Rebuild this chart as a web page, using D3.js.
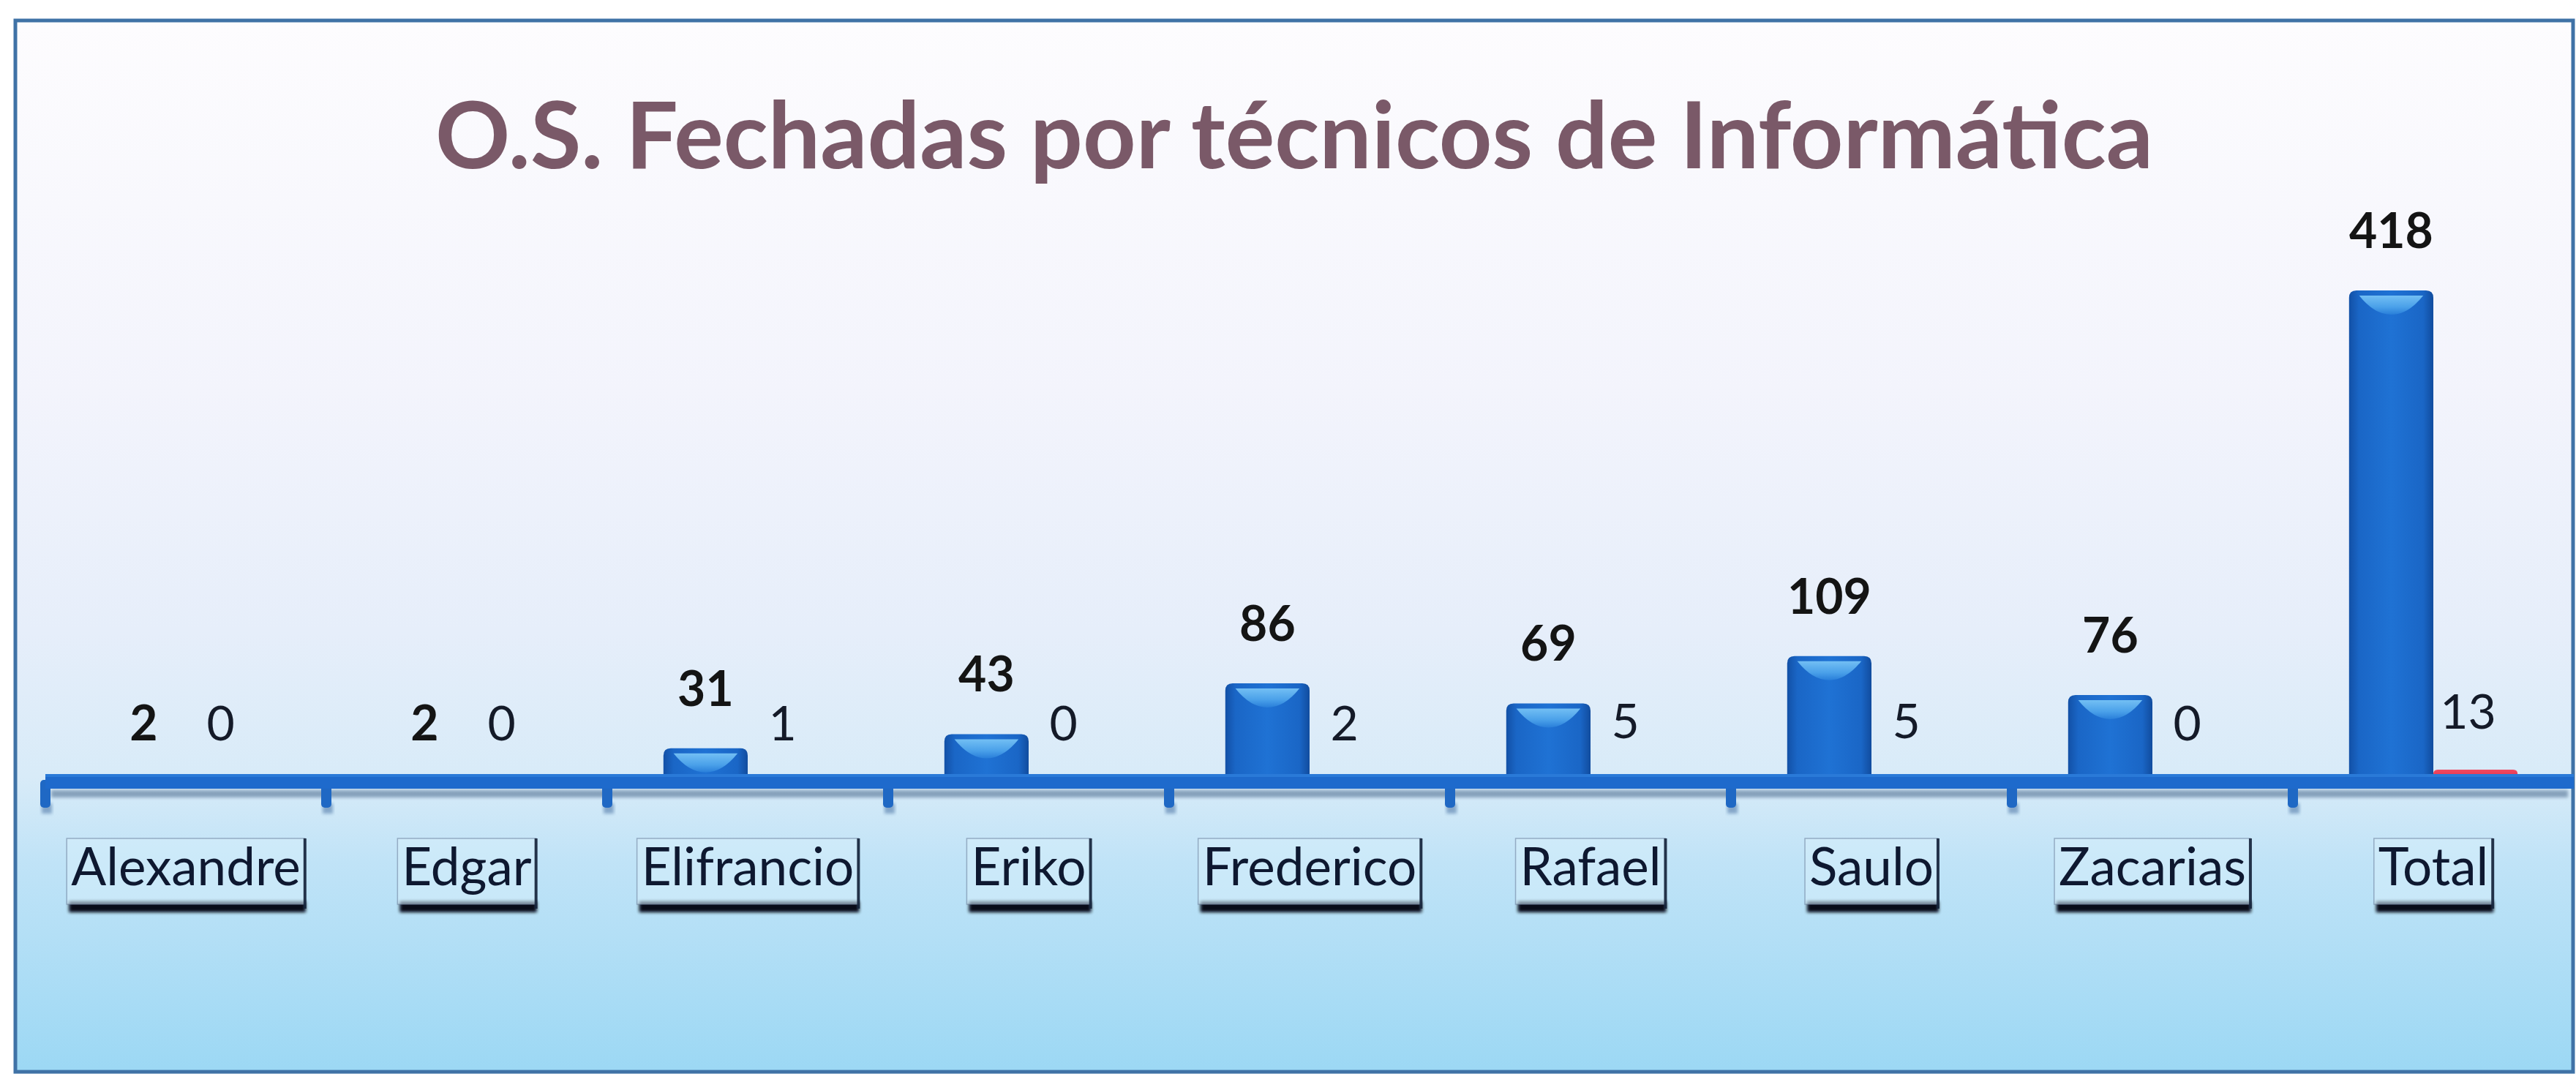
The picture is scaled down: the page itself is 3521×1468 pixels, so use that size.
<!DOCTYPE html>
<html>
<head>
<meta charset="utf-8">
<script src="https://cdn.jsdelivr.net/npm/d3@7"></script>
<style>
  html, body { margin: 0; padding: 0; background: #ffffff; }
  svg { display: block; }
</style>
</head>
<body>
<svg id="chart" width="3521" height="1468"></svg>
<script>
// ---- data ----
const title = "O.S. Fechadas por técnicos de Informática";
const categories = ["Alexandre", "Edgar", "Elifrancio", "Eriko", "Frederico", "Rafael", "Saulo", "Zacarias", "Total"];
const seriesKeys = ["fechadas", "outras"];
const fechadas = [2, 2, 31, 43, 86, 69, 109, 76, 418];
const outras = [0, 0, 1, 0, 2, 5, 5, 0, 13];

const rows = categories.map((c, i) => ({ cat: c, fechadas: fechadas[i], outras: outras[i] }));

// ---- layout ----
const frame = { x: 21, y: 28, w: 3496, h: 1437 };
const axisLeft = 62, axisRight = 3518;
const baseY = 1073, topY = 397;

const svg = d3.select("#chart");
const defs = svg.append("defs");

// background gradient
const bg = defs.append("linearGradient").attr("id", "bg").attr("x1", 0).attr("y1", 0).attr("x2", 0).attr("y2", 1);
[["0%", "#fdfcfe"], ["35%", "#f3f4fc"], ["58%", "#e6eefa"], ["72%", "#d8ebf8"], ["80%", "#c0e3f7"], ["100%", "#9cd8f4"]]
  .forEach(([o, c]) => bg.append("stop").attr("offset", o).attr("stop-color", c));

// bar gradient (horizontal)
const bg1 = defs.append("linearGradient").attr("id", "barBlue").attr("x1", 0).attr("y1", 0).attr("x2", 1).attr("y2", 0);
[["0%", "#1250a6"], ["12%", "#1a66c6"], ["50%", "#1f72d4"], ["88%", "#1a66c6"], ["100%", "#114c9e"]]
  .forEach(([o, c]) => bg1.append("stop").attr("offset", o).attr("stop-color", c));
const hl = defs.append("linearGradient").attr("id", "hl").attr("x1", 0).attr("y1", 0).attr("x2", 0).attr("y2", 1);
[["0%", "#7cc8f8"], ["60%", "#4fa6ec"], ["100%", "#2a80da"]]
  .forEach(([o, c]) => hl.append("stop").attr("offset", o).attr("stop-color", c));
const red = defs.append("linearGradient").attr("id", "barRed").attr("x1", 0).attr("y1", 0).attr("x2", 0).attr("y2", 1);
[["0%", "#f04a62"], ["100%", "#d8203c"]]
  .forEach(([o, c]) => red.append("stop").attr("offset", o).attr("stop-color", c));

const blur2 = defs.append("filter").attr("id", "blur2").attr("x", "-20%").attr("y", "-100%").attr("width", "140%").attr("height", "300%");
blur2.append("feGaussianBlur").attr("stdDeviation", 2);

// frame
svg.append("rect").attr("x", frame.x).attr("y", frame.y).attr("width", frame.w).attr("height", frame.h)
  .attr("fill", "url(#bg)").attr("stroke", "#3f72a6").attr("stroke-width", 5);

// ---- scales ----
const x0 = d3.scaleBand().domain(categories).range([axisLeft, axisRight]).paddingInner(0.4).paddingOuter(0.2);
const xb = d3.scaleBand().domain(categories).range([axisLeft, axisRight]).padding(0);
const x1 = d3.scaleBand().domain(seriesKeys).range([0, x0.bandwidth()]).padding(0);
const y = d3.scaleLinear().domain([0, 418]).range([baseY, topY]);

// ---- title ----
const titleText = svg.append("text")
  .attr("x", (frame.x + frame.x + frame.w) / 2).attr("y", 230)
  .attr("text-anchor", "middle")
  .attr("font-family", "Lato, 'Open Sans', sans-serif").attr("font-weight", 700)
  .attr("font-size", 134).attr("fill", "#7a5968")
  .text(title);
{
  const wNow = titleText.node().getComputedTextLength();
  titleText.attr("font-size", 134 * 2348 / wNow);
}

// ---- bars ----
function roundTopPath(x, yTop, w, h, r) {
  r = Math.min(r, w / 2, Math.max(h, 0));
  const b = yTop + h;
  return `M${x},${b} L${x},${yTop + r} Q${x},${yTop} ${x + r},${yTop} L${x + w - r},${yTop} Q${x + w},${yTop} ${x + w},${yTop + r} L${x + w},${b} Z`;
}

const groups = svg.append("g").selectAll("g").data(rows).join("g")
  .attr("transform", d => `translate(${x0(d.cat)},0)`);

groups.append("path")
  .attr("d", d => roundTopPath(x1("fechadas"), y(d.fechadas), x1.bandwidth(), baseY - y(d.fechadas), 10))
  .attr("fill", "url(#barBlue)");

groups.filter(d => baseY - y(d.fechadas) > 25).append("path")
  .attr("d", d => {
    const bw = x1.bandwidth();
    const xs = x1("fechadas");
    const t = y(d.fechadas) + 7;
    return `M${xs + bw * 0.12},${t} L${xs + bw * 0.88},${t} Q${xs + bw * 0.7},${t + 26} ${xs + bw * 0.5},${t + 26} Q${xs + bw * 0.3},${t + 26} ${xs + bw * 0.12},${t} Z`;
  })
  .attr("fill", "url(#hl)").attr("opacity", 0.9);

groups.append("path")
  .attr("d", d => roundTopPath(x1("outras"), y(d.outras), x1.bandwidth(), baseY - y(d.outras), 6))
  .attr("fill", "url(#barRed)");

// ---- axis ----
const axisG = svg.append("g");
axisG.append("rect").attr("x", axisLeft + 8).attr("y", 1080).attr("width", axisRight - axisLeft - 16).attr("height", 10)
  .attr("fill", "#3a5a80").attr("opacity", 0.5).attr("filter", "url(#blur2)");
axisG.selectAll("rect.tickshadow").data(categories).join("rect").attr("class", "tickshadow")
  .attr("x", d => xb(d) - 5).attr("y", 1098).attr("width", 14).attr("height", 14)
  .attr("fill", "#2a5690").attr("opacity", 0.45).attr("filter", "url(#blur2)");
axisG.selectAll("rect.tick").data(categories).join("rect").attr("class", "tick")
  .attr("x", d => xb(d) - 7).attr("y", 1066).attr("width", 14).attr("height", 38).attr("rx", 5)
  .attr("fill", "#1f68c4");
axisG.append("rect").attr("x", axisLeft).attr("y", 1058).attr("width", axisRight - axisLeft).attr("height", 20)
  .attr("fill", "#1e6acc");
axisG.append("rect").attr("x", axisLeft).attr("y", 1058).attr("width", axisRight - axisLeft).attr("height", 4)
  .attr("fill", "#2a7ad8");

// ---- data labels ----
groups.append("text")
  .attr("x", x1("fechadas") + x1.bandwidth() / 2)
  .attr("y", d => y(d.fechadas) - 58)
  .attr("text-anchor", "middle")
  .attr("font-family", "Lato, sans-serif").attr("font-weight", 700).attr("font-size", 66)
  .attr("fill", "#141414")
  .text(d => d.fechadas);

groups.append("text")
  .attr("x", x1("outras") + x1.bandwidth() / 2 - 10)
  .attr("y", d => Math.min(y(d.outras) - 56, 1012))
  .attr("text-anchor", "middle")
  .attr("font-family", "Lato, sans-serif").attr("font-weight", 400).attr("font-size", 66)
  .attr("fill", "#141a28")
  .text(d => d.outras);

// ---- category label boxes ----
const catG = svg.append("g").selectAll("g").data(categories).join("g")
  .attr("transform", d => `translate(${xb(d) + xb.bandwidth() / 2},0)`);

catG.append("text")
  .attr("x", 0).attr("y", 1210)
  .attr("text-anchor", "middle")
  .attr("font-family", "Lato, sans-serif").attr("font-size", 71)
  .attr("fill", "#0e1830")
  .text(d => d);

catG.each(function () {
  const g = d3.select(this);
  const w = g.select("text").node().getComputedTextLength();
  const left = -w / 2 - 6, right = w / 2 + 6;
  g.insert("rect", "text").attr("x", left + 3).attr("y", 1232).attr("width", right - left - 2).attr("height", 15)
    .attr("fill", "#02060f").attr("opacity", 0.95).attr("filter", "url(#blur2)");
  g.insert("rect", "text").attr("x", left).attr("y", 1146).attr("width", right - left).attr("height", 90)
    .attr("fill", "#d6eefb").attr("fill-opacity", 0.55).attr("stroke", "#6f84a0").attr("stroke-width", 1.5).attr("stroke-opacity", 0.6);
  g.insert("rect", "text").attr("x", right - 2).attr("y", 1146).attr("width", 4).attr("height", 96)
    .attr("fill", "#14223a").attr("opacity", 0.9);
});
</script>
</body>
</html>
